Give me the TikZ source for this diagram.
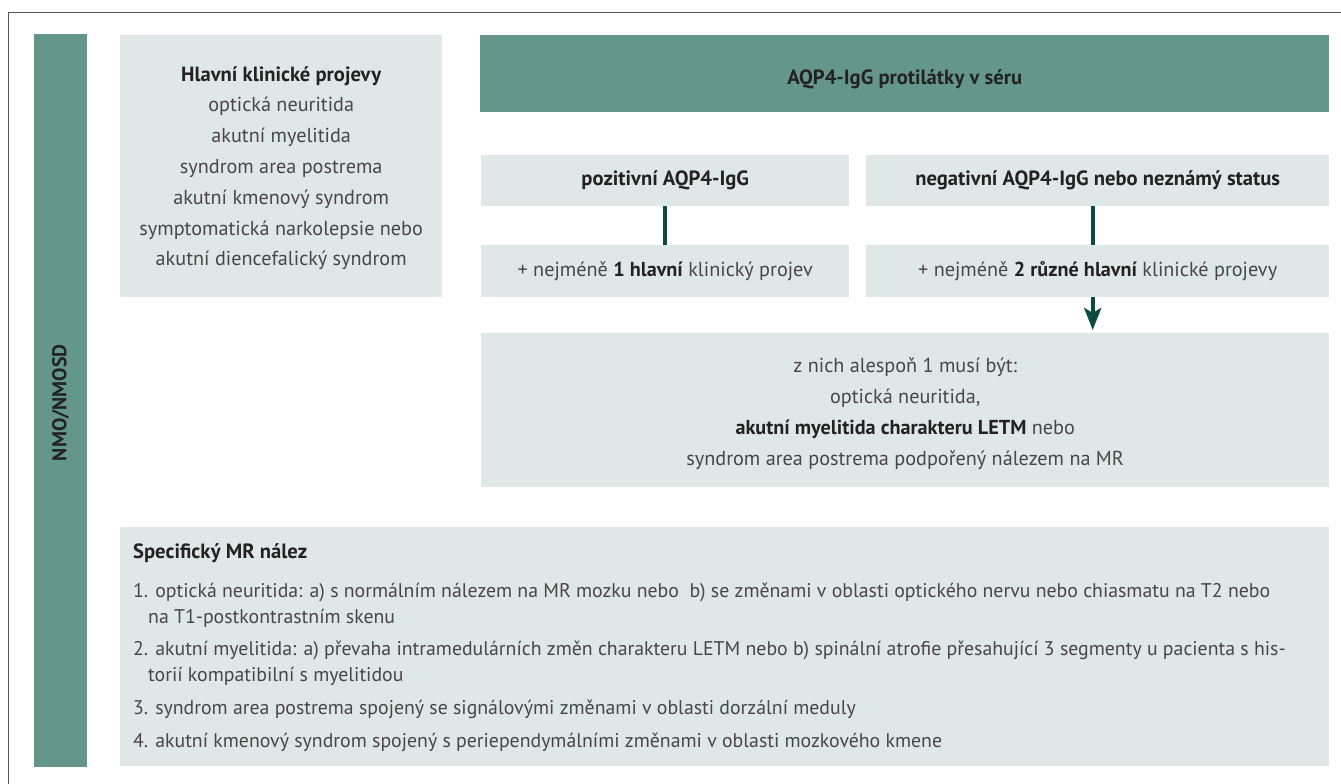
\documentclass[tikz,border=0pt]{standalone}
\usepackage{fontspec}
\setmainfont{PT Sans}
\usetikzlibrary{arrows.meta}
\definecolor{teal1}{HTML}{64968B}
\definecolor{light1}{HTML}{DFE8E6}
\definecolor{dk}{HTML}{0D4A3F}
\definecolor{txt}{HTML}{474747}
\definecolor{btxt}{HTML}{222222}
\definecolor{frame}{HTML}{555555}
\begin{document}
\begin{tikzpicture}[x=1pt,y=-1pt,
  font=\fontsize{20.2}{24}\selectfont,
  lbox/.style={fill=light1, draw=none, inner sep=0pt, anchor=north west},
  dbox/.style={fill=teal1, draw=none, inner sep=0pt, anchor=north west},
  ctext/.style={align=center, text=txt, inner sep=0pt},
  conn/.style={draw=dk, line width=4pt},
  bt/.style={text=btxt},
  bfont/.style={font=\fontsize{20.6}{24}\selectfont\bfseries}]
\useasboundingbox (0,0) rectangle (1341,784);
\draw[frame, line width=1.5pt] (8.5,800) -- (8.5,12.5) -- (1360,12.5);
% left bar
\node[dbox, minimum width=53pt, minimum height=733pt] (bar) at (34,34) {};
\node[rotate=90, text=btxt, font=\fontsize{20}{24}\selectfont\bfseries] (nmo) at ([yshift=-2pt]bar.center) {NMO/NMOSD};
% main clinical features
\node[lbox, minimum width=322pt, minimum height=262pt] (hl) at (120,35) {};
\node[ctext, font=\fontsize{20.2}{30.8}\selectfont] (hltext) at ([yshift=-2pt]hl.center)
  {\textcolor{btxt}{\fontsize{20.6}{30.8}\selectfont\bfseries Hlavní klinické projevy}\\optická neuritida\\akutní myelitida\\syndrom area postrema\\akutní kmenový syndrom\\symptomatická narkolepsie nebo\\akutní diencefalický syndrom};
% header
\node[dbox, minimum width=849pt, minimum height=77pt] (aqp) at (480,35) {};
\node[bt, bfont] (aqpt) at ([yshift=-6pt]aqp.center) {AQP4-IgG protilátky v séru};
% positive / negative
\node[lbox, minimum width=368pt, minimum height=51pt] (pos) at (481,155) {};
\node[bt, bfont] (post) at (pos.center) {pozitivní AQP4-IgG};
\node[lbox, minimum width=463pt, minimum height=51pt] (neg) at (866,155) {};
\node[bt, bfont] (negt) at (neg.center) {negativní AQP4-IgG nebo neznámý status};
% criteria
\node[lbox, minimum width=368pt, minimum height=52pt] (one) at (481,245) {};
\node[ctext] (onet) at (one.center) {+ nejméně \textcolor{btxt}{\bfseries 1 hlavní} klinický projev};
\node[lbox, minimum width=463pt, minimum height=52pt] (two) at (866,245) {};
\node[ctext] (twot) at (two.center) {+ nejméně \textcolor{btxt}{\bfseries 2 různé hlavní} klinické projevy};
% z nich
\node[lbox, minimum width=848pt, minimum height=154pt] (zn) at (481,333) {};
\node[ctext, font=\fontsize{20.2}{31}\selectfont] (znt) at ([yshift=-3pt]zn.center)
  {z nich alespoň 1 musí být:\\optická neuritida,\\\textcolor{btxt}{\bfseries akutní myelitida charakteru LETM} nebo\\syndrom area postrema podpořený nálezem na MR};
% connectors
\coordinate (nx) at ([xshift=-5pt]neg.south);
\coordinate (ax) at ([xshift=-5pt]two.south);
\draw[conn] (pos.south) -- (one.north);
\draw[conn] (nx) -- (nx |- two.north);
\draw[conn, -{Stealth[length=22pt, width=17pt, inset=5pt]}, shorten >=3pt] (ax) -- (ax |- zn.north);
% specific MR
\node[lbox, minimum width=1209pt, minimum height=239pt] (spec) at (120,527) {};
\node[align=left, text=txt, inner sep=0pt, anchor=north west, font=\fontsize{19.8}{26}\selectfont] (spect) at (133,543)
  {\textcolor{btxt}{\fontsize{20.6}{26}\selectfont\bfseries Specifický MR nález}\\[13pt]
   1. optická neuritida: a) s normálním nálezem na MR mozku nebo\ \ b) se změnami v oblasti optického nervu nebo chiasmatu na T2 nebo\\
   \hspace*{15pt}na T1-postkontrastním skenu\\[6pt]
   2. akutní myelitida: a) převaha intramedulárních změn charakteru LETM nebo b) spinální atrofie přesahující 3 segmenty u pacienta s his-\\
   \hspace*{15pt}torií kompatibilní s myelitidou\\[7pt]
   3. syndrom area postrema spojený se signálovými změnami v oblasti dorzální meduly\\[7pt]
   4. akutní kmenový syndrom spojený s periependymálními změnami v oblasti mozkového kmene};
\end{tikzpicture}
\end{document}
